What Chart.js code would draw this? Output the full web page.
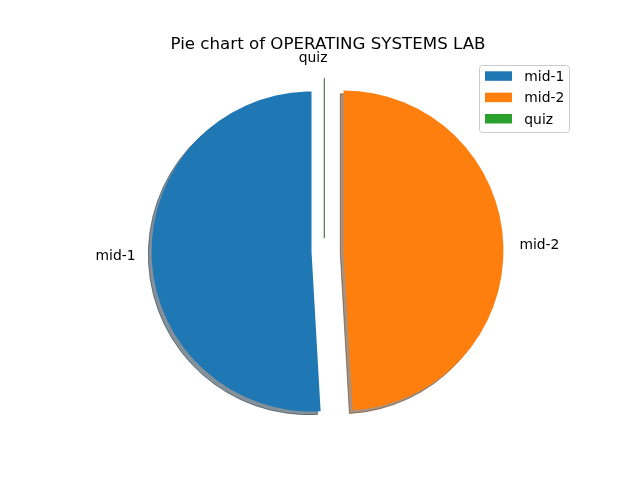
<!DOCTYPE html>
<html>
<head>
<meta charset="utf-8">
<script src="https://cdn.jsdelivr.net/npm/chart.js"></script>
<style>
  html, body { margin: 0; padding: 0; background: #ffffff; }
  #wrap { width: 640px; height: 480px; }
</style>
</head>
<body>
<div id="wrap"><canvas id="c" width="640" height="480"></canvas></div>
<script>
// ---- data ----
const categories = ['mid-1', 'mid-2', 'quiz'];
const marks = [28, 27, 0];
const explodeFrac = [0.1, 0.1, 0.1];
const sliceColors = ['#1f77b4', '#ff7f0e', '#2ca02c'];
const chartTitle = 'Pie chart of OPERATING SYSTEMS LAB';

// matplotlib draws counter-clockwise from the top; Chart.js draws clockwise,
// so the dataset is fed in reverse order.
const dsLabels = categories.slice().reverse();
const dsData = marks.slice().reverse();
const dsColors = sliceColors.slice().reverse();
const dsExplode = explodeFrac.slice().reverse();

const FONT = '"DejaVu Sans", "Liberation Sans", sans-serif';
const LABEL_PX = 13.89;
const TITLE_PX = 16.67;
const SHX = 3.2, SHY = 3.2; // shadow offset (left, down)

function shadowColor(hex) {
  const r = parseInt(hex.slice(1, 3), 16), g = parseInt(hex.slice(3, 5), 16), b = parseInt(hex.slice(5, 7), 16);
  return 'rgba(' + Math.round(r * 0.3) + ',' + Math.round(g * 0.3) + ',' + Math.round(b * 0.3) + ',0.5)';
}

function arcGeom(el, i) {
  const p = el.getProps(['x', 'y', 'startAngle', 'endAngle', 'outerRadius'], true);
  const half = (p.startAngle + p.endAngle) / 2;
  const e = (dsExplode[i] || 0) * p.outerRadius;
  return {
    dx: Math.cos(half) * e,
    dy: Math.sin(half) * e,
    cx: p.x + Math.cos(half) * e,
    cy: p.y + Math.sin(half) * e,
    r: p.outerRadius,
    half: half,
    start: p.startAngle,
    end: p.endAngle
  };
}

// explode: translate each arc element along its bisector before the library draws it
const explodePlugin = {
  id: 'mplExplode',
  afterUpdate(chart) {
    const meta = chart.getDatasetMeta(0);
    meta.data.forEach((el, i) => {
      if (el.__exploded) return;
      el.__exploded = true;
      const baseDraw = Chart.ArcElement.prototype.draw;
      el.draw = function (ctx, area) {
        const g = arcGeom(this, i);
        ctx.save();
        ctx.translate(g.dx, g.dy);
        baseDraw.call(this, ctx, area);
        ctx.restore();
      };
    });
  }
};

const shadowPlugin = {
  id: 'mplShadow',
  beforeDatasetsDraw(chart) {
    const ctx = chart.ctx;
    const meta = chart.getDatasetMeta(0);
    meta.data.forEach((el, i) => {
      const g = arcGeom(el, i);
      const col = shadowColor(dsColors[i]);
      const cx = g.cx - SHX, cy = g.cy + SHY;
      ctx.save();
      ctx.fillStyle = col;
      ctx.strokeStyle = col;
      ctx.lineWidth = 1;
      ctx.beginPath();
      ctx.moveTo(cx, cy);
      ctx.arc(cx, cy, g.r, g.start, g.end);
      ctx.closePath();
      if (g.end - g.start > 0) ctx.fill();
      ctx.stroke();
      ctx.restore();
    });
  }
};

const labelPlugin = {
  id: 'mplLabels',
  afterDatasetsDraw(chart) {
    const ctx = chart.ctx;
    const meta = chart.getDatasetMeta(0);
    ctx.save();
    ctx.font = LABEL_PX + 'px ' + FONT;
    ctx.fillStyle = '#000000';
    ctx.textBaseline = 'alphabetic';
    meta.data.forEach((el, i) => {
      const g = arcGeom(el, i);
      const c = Math.cos(g.half), s = Math.sin(g.half);
      const x = g.cx + c * 1.1 * g.r;
      const y = g.cy + s * 1.1 * g.r;
      ctx.textAlign = c > 1e-9 ? 'left' : 'right';
      ctx.fillText(dsLabels[i], x, y + 3.3);
    });
    ctx.restore();
  },
  afterDraw(chart) {
    const ctx = chart.ctx;
    ctx.save();
    // title
    ctx.font = TITLE_PX + 'px ' + FONT;
    ctx.fillStyle = '#000000';
    ctx.textAlign = 'center';
    ctx.textBaseline = 'alphabetic';
    ctx.fillText(chartTitle, 328, 49);
    // legend
    const lx = 479.5, ly = 65.5, lw = 90, lh = 67;
    ctx.beginPath();
    ctx.roundRect(lx, ly, lw, lh, 3);
    ctx.fillStyle = 'rgba(255,255,255,0.8)';
    ctx.fill();
    ctx.strokeStyle = '#cccccc';
    ctx.lineWidth = 1;
    ctx.stroke();
    ctx.font = LABEL_PX + 'px ' + FONT;
    ctx.textAlign = 'left';
    categories.forEach((name, i) => {
      const rowC = 76 + i * 21.35;
      ctx.fillStyle = sliceColors[i];
      ctx.fillRect(485, rowC - 4.7, 27, 9.5);
      ctx.fillStyle = '#000000';
      ctx.fillText(name, 524.3, rowC + 5);
    });
    ctx.restore();
  }
};

new Chart(document.getElementById('c'), {
  type: 'pie',
  data: {
    labels: dsLabels,
    datasets: [{
      data: dsData,
      backgroundColor: dsColors,
      borderWidth: 0,
      offset: 0,
      hoverOffset: 0
    }]
  },
  options: {
    responsive: false,
    animation: false,
    devicePixelRatio: 1,
    rotation: 0,
    layout: { padding: { left: 167.5, right: 152.5, top: 91, bottom: 69 } },
    plugins: {
      legend: { display: false },
      title: { display: false },
      tooltip: { enabled: false }
    },
    events: []
  },
  plugins: [explodePlugin, shadowPlugin, labelPlugin]
});
</script>
</body>
</html>
